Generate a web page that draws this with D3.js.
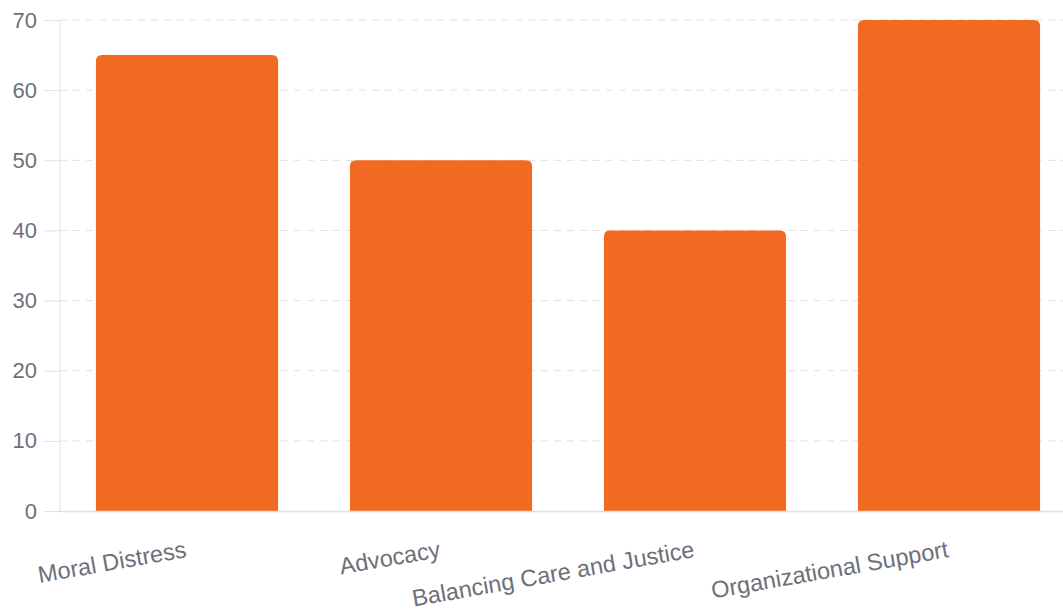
<!DOCTYPE html>
<html>
<head>
<meta charset="utf-8">
<script src="https://cdn.jsdelivr.net/npm/d3@7"></script>
<style>
  html, body { margin: 0; padding: 0; background: #fff; }
  svg { display: block; }
  text { font-family: "Liberation Sans", Arial, sans-serif; }
</style>
</head>
<body>
<svg id="chart" width="1063" height="610"></svg>
<script>
// Scores per ethical theme
const categories = ["Moral Distress", "Advocacy", "Balancing Care and Justice", "Organizational Support"];
const values = [65, 50, 40, 70];
const yTicks = [0, 10, 20, 30, 40, 50, 60, 70];

const W = 1063, H = 610;
const margin = { left: 60, top: 20, bottom: 99 };
const plotRight = 1076;            // plot area runs slightly past the right edge
const y0 = H - margin.bottom;      // baseline at 511

const svg = d3.select("#chart");

const x = d3.scaleBand()
  .domain(categories)
  .range([margin.left, plotRight])
  .paddingInner(0.283)
  .paddingOuter(0.1415);

const y = d3.scaleLinear()
  .domain([0, 70])
  .range([y0, margin.top]);

const gridColor = "#e0e0e0";
const labelColor = "#6e7079";

// horizontal dashed grid lines
svg.append("g")
  .selectAll("line")
  .data(yTicks.filter(d => d > 0))
  .join("line")
  .attr("x1", margin.left).attr("x2", W)
  .attr("y1", d => y(d)).attr("y2", d => y(d))
  .attr("stroke", gridColor)
  .attr("stroke-width", 1)
  .attr("stroke-dasharray", "7,6");

// y axis with outward ticks
const yAxis = d3.axisLeft(y)
  .tickValues(yTicks)
  .tickSize(16)
  .tickPadding(7)
  .tickFormat(d3.format("d"));

const gy = svg.append("g")
  .attr("transform", `translate(${margin.left},0)`)
  .call(yAxis);
gy.select(".domain").attr("stroke", gridColor).attr("d", `M0,${margin.top}V${y0}`);
gy.selectAll(".tick line").attr("stroke", gridColor);
gy.selectAll(".tick text")
  .attr("fill", labelColor)
  .style("font-size", "22px")
  .style("font-family", "'Liberation Sans', Arial, sans-serif");

// bars with rounded top corners
const r = 6;
function barPath(d, i) {
  const bx = x(categories[i]);
  const bw = x.bandwidth();
  const top = y(d);
  return `M${bx},${y0}V${top + r}Q${bx},${top} ${bx + r},${top}` +
         `H${bx + bw - r}Q${bx + bw},${top} ${bx + bw},${top + r}V${y0}Z`;
}
svg.append("g")
  .selectAll("path")
  .data(values)
  .join("path")
  .attr("d", (d, i) => barPath(d, i))
  .attr("fill", "#f26a21");

// x axis baseline
svg.append("line")
  .attr("x1", margin.left).attr("x2", W)
  .attr("y1", y0 + 0.5).attr("y2", y0 + 0.5)
  .attr("stroke", gridColor)
  .attr("stroke-width", 1.5);

// rotated category labels, right-aligned under each bar centre
svg.append("g")
  .selectAll("text")
  .data(categories)
  .join("text")
  .attr("transform", d => `translate(${x(d) + x.bandwidth() / 2 - 1},${y0 + 38}) rotate(-10)`)
  .attr("text-anchor", "end")
  .attr("dominant-baseline", "central")
  .attr("fill", labelColor)
  .style("font-size", "23.5px")
  .text(d => d);
</script>
</body>
</html>
